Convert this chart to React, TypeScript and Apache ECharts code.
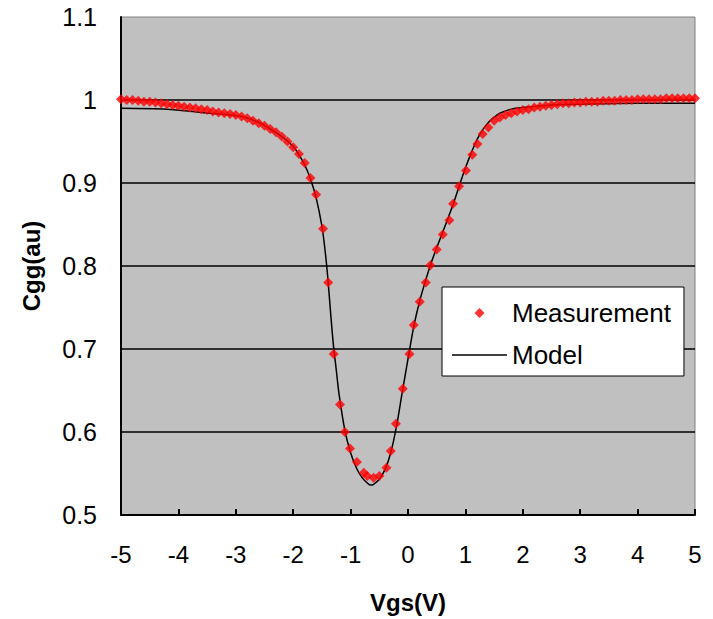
import React, { useEffect, useRef } from "react";
import * as echarts from "echarts";

const xTicks = [-5, -4, -3, -2, -1, 0, 1, 2, 3, 4, 5];
const yTicks = [0.5, 0.6, 0.7, 0.8, 0.9, 1.0, 1.1];

const measVgs = [
  -5.0, -4.9, -4.8, -4.7, -4.6, -4.5, -4.4, -4.3, -4.2, -4.1, -4.0, -3.9, -3.8, -3.7, -3.6, -3.5,
  -3.4, -3.3, -3.2, -3.1, -3.0, -2.9, -2.8, -2.7, -2.6, -2.5, -2.4, -2.3, -2.2, -2.1, -2.0, -1.9,
  -1.8, -1.7, -1.6, -1.48, -1.39, -1.295, -1.185, -1.1, -1.01, -0.89, -0.77, -0.71, -0.6, -0.5,
  -0.376, -0.3, -0.21, -0.09, 0.025, 0.1, 0.205, 0.31, 0.39, 0.5, 0.606, 0.72, 0.785, 0.89, 1.01,
  1.12, 1.21, 1.3, 1.4, 1.5, 1.6, 1.7, 1.8, 1.9, 2.0, 2.1, 2.2, 2.3, 2.4, 2.5, 2.6, 2.7, 2.8, 2.9,
  3.0, 3.1, 3.2, 3.3, 3.4, 3.5, 3.6, 3.7, 3.8, 3.9, 4.0, 4.1, 4.2, 4.3, 4.4, 4.5, 4.6, 4.7, 4.8,
  4.9, 5.0,
];
const measCgg = [
  1.001, 1.0, 1.0, 0.999, 0.998, 0.998, 0.997, 0.996, 0.995, 0.994, 0.993, 0.992, 0.991, 0.99, 0.989, 0.988,
  0.986, 0.985, 0.984, 0.983, 0.982, 0.98, 0.978, 0.975, 0.972, 0.969, 0.965, 0.961, 0.956, 0.95, 0.943, 0.935,
  0.924, 0.906, 0.886, 0.845, 0.78, 0.694, 0.633, 0.6, 0.58, 0.564, 0.551, 0.547, 0.545, 0.547,
  0.557, 0.577, 0.61, 0.652, 0.694, 0.729, 0.757, 0.78, 0.801, 0.82, 0.838, 0.855, 0.875, 0.896, 0.915,
  0.934, 0.947, 0.959, 0.967, 0.975, 0.979, 0.982, 0.984, 0.986, 0.988, 0.989, 0.991, 0.992, 0.993, 0.994, 0.995, 0.996, 0.996, 0.997,
  0.997, 0.998, 0.998, 0.998, 0.999, 0.999, 0.999, 1.0, 1.0, 1.0, 1.001, 1.001, 1.001, 1.001, 1.001, 1.002, 1.002, 1.002, 1.002,
  1.002, 1.002,
];

const modelVgs = [
  -5.0, -4.2, -3.75, -3.45, -2.9, -2.6, -2.4, -2.2, -2.0, -1.9, -1.8, -1.7, -1.6, -1.5, -1.45, -1.4,
  -1.35, -1.3, -1.25, -1.2, -1.1, -1.0, -0.9, -0.8, -0.7, -0.65, -0.6, -0.5, -0.4, -0.3, -0.2, -0.1,
  0.0, 0.1, 0.2, 0.3, 0.4, 0.5, 0.6, 0.7, 0.8, 0.9, 1.0, 1.1, 1.2, 1.3, 1.4, 1.5, 1.6, 1.8, 2.0,
  2.5, 3.0, 4.0, 5.0,
];
const modelCgg = [
  0.99, 0.989, 0.986, 0.984, 0.98, 0.973, 0.965, 0.956, 0.944, 0.934, 0.922, 0.905, 0.882, 0.848, 0.822, 0.788,
  0.745, 0.705, 0.675, 0.645, 0.602, 0.575, 0.557, 0.545, 0.538, 0.536, 0.537, 0.543, 0.555, 0.575, 0.607, 0.648,
  0.688, 0.727, 0.757, 0.781, 0.803, 0.822, 0.84, 0.858, 0.877, 0.898, 0.918, 0.936, 0.952, 0.964, 0.973, 0.979, 0.984, 0.989, 0.991,
  0.994, 0.995, 0.996, 0.996,
];

const FONT = "'Liberation Sans', Arial, sans-serif";

export default function App() {
  const ref = useRef<HTMLDivElement>(null);
  useEffect(() => {
    if (!ref.current) return;
    const chart = echarts.init(ref.current, null, { renderer: "svg" });
    const meas = measVgs.map((x, i) => [x, measCgg[i]]);
    const model = modelVgs.map((x, i) => [x, modelCgg[i]]);
    chart.setOption({
      animation: false,
      backgroundColor: "#ffffff",
      textStyle: { fontFamily: FONT },
      grid: {
        left: 121,
        right: 18,
        top: 17,
        bottom: 104,
        show: true,
        backgroundColor: "#c0c0c0",
        borderColor: "#808080",
        borderWidth: 1,
      },
      legend: {
        orient: "vertical",
        left: 442,
        top: 287,
        padding: [11, 13, 6, 10],
        itemWidth: 55,
        itemHeight: 10,
        itemGap: 12,
        symbolKeepAspect: true,
        backgroundColor: "#ffffff",
        borderColor: "#000000",
        borderWidth: 1,
        borderRadius: 0,
        textStyle: { fontSize: 26, color: "#000", fontFamily: FONT, lineHeight: 30 },
        itemTextGap: 10,
        data: [
          { name: "Measurement", icon: "path://M5,0L10,5L5,10L0,5Z" },
          { name: "Model", icon: "path://M0,0H55V1.5H0Z" },
        ],
      },
      xAxis: {
        type: "value",
        min: xTicks[0],
        max: xTicks[xTicks.length - 1],
        interval: 1,
        name: "Vgs(V)",
        nameLocation: "middle",
        nameGap: 75,
        nameTextStyle: { fontSize: 24, fontWeight: "bold", color: "#000", fontFamily: FONT },
        axisLine: { show: true, onZero: false, lineStyle: { color: "#000", width: 2 } },
        axisTick: { show: true, inside: true, length: 6, lineStyle: { color: "#000", width: 2 } },
        axisLabel: { fontSize: 24, color: "#000", margin: 27, fontFamily: FONT },
        splitLine: { show: false },
      },
      yAxis: {
        type: "value",
        min: yTicks[0],
        max: yTicks[yTicks.length - 1],
        interval: 0.1,
        name: "Cgg(au)",
        nameLocation: "middle",
        nameGap: 78,
        nameTextStyle: { fontSize: 24, fontWeight: "bold", color: "#000", fontFamily: FONT },
        axisLine: { show: true, onZero: false, lineStyle: { color: "#000", width: 2 } },
        axisTick: { show: false },
        axisLabel: {
          fontSize: 25,
          color: "#000",
          margin: 24,
          fontFamily: FONT,
          formatter: (v: number) => String(Math.round(v * 10) / 10),
        },
        splitLine: {
          show: true,
          showMinLine: false,
          showMaxLine: false,
          lineStyle: { color: "#000", width: 1.5 },
        },
      },
      series: [
        {
          name: "Model",
          type: "line",
          data: model,
          symbol: "none",
          smooth: 0.3,
          lineStyle: { color: "#000", width: 1.5 },
          itemStyle: { color: "#000" },
          z: 2,
        },
        {
          name: "Measurement",
          type: "scatter",
          data: meas,
          symbol: "diamond",
          symbolSize: 10,
          itemStyle: { color: "#ff0000" },
          z: 3,
        },
      ],
    });
    return () => chart.dispose();
  }, []);
  return (
    <div
      ref={ref}
      style={{ position: "fixed", left: 0, top: 0, width: 713, height: 619 }}
    />
  );
}
